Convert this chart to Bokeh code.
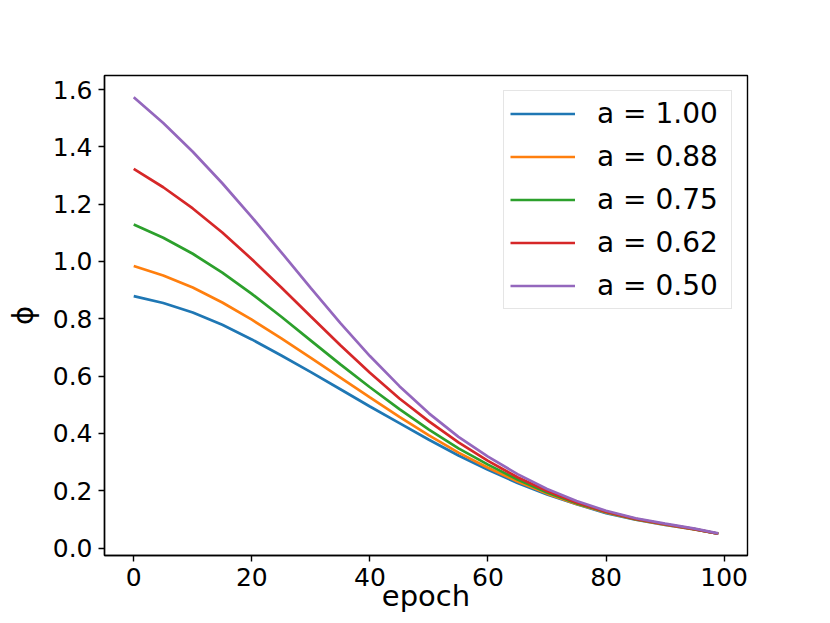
from bokeh.plotting import figure
from bokeh.models import Range1d, FixedTicker, PrintfTickFormatter
from bokeh.embed import file_html
from bokeh.resources import INLINE

# ---- data ----
epochs = [0, 5, 10, 15, 20, 25, 30, 35, 40, 45, 50, 55, 60, 65, 70, 75, 80, 85, 90, 95, 99]

phi_a100 = [0.879, 0.855, 0.822, 0.779, 0.728, 0.672, 0.614, 0.554, 0.494, 0.436, 0.378,
            0.323, 0.273, 0.227, 0.187, 0.153, 0.122, 0.099, 0.081, 0.065, 0.050]
phi_a088 = [0.984, 0.951, 0.909, 0.857, 0.797, 0.732, 0.664, 0.595, 0.526, 0.458, 0.393,
            0.333, 0.280, 0.232, 0.190, 0.154, 0.124, 0.100, 0.082, 0.065, 0.050]
phi_a075 = [1.129, 1.083, 1.027, 0.961, 0.887, 0.807, 0.724, 0.641, 0.561, 0.485, 0.413,
            0.348, 0.291, 0.239, 0.194, 0.156, 0.126, 0.101, 0.083, 0.066, 0.050]
phi_a062 = [1.323, 1.259, 1.185, 1.101, 1.008, 0.909, 0.808, 0.708, 0.612, 0.522, 0.442,
            0.369, 0.304, 0.247, 0.199, 0.159, 0.127, 0.102, 0.083, 0.066, 0.050]
phi_a050 = [1.573, 1.483, 1.383, 1.273, 1.155, 1.032, 0.907, 0.785, 0.670, 0.565, 0.470,
            0.388, 0.319, 0.258, 0.206, 0.164, 0.130, 0.104, 0.085, 0.068, 0.051]

labels = ["a = 1.00", "a = 0.88", "a = 0.75", "a = 0.62", "a = 0.50"]
series = [phi_a100, phi_a088, phi_a075, phi_a062, phi_a050]
colors = ["#1f77b4", "#ff7f0e", "#2ca02c", "#d62728", "#9467bd"]

x_ticks = [0, 20, 40, 60, 80, 100]
y_ticks = [0.0, 0.2, 0.4, 0.6, 0.8, 1.0, 1.2, 1.4, 1.6]
x_title = "epoch"
y_title = "ϕ"

FONT = "DejaVu Sans"

p = figure(width=814, height=615, output_backend="svg", toolbar_location=None,
           x_range=Range1d(-4.95, 103.95), y_range=Range1d(-0.026, 1.649),
           min_border_left=104, min_border_right=67, min_border_top=75, min_border_bottom=60)

for ys, lab, col in zip(series, labels, colors):
    p.line(epochs, ys, line_color=col, line_width=2.7, legend_label=lab)

p.grid.visible = False
p.background_fill_color = "white"
p.border_fill_color = "white"
p.outline_line_color = "black"
p.outline_line_width = 1.4

p.xaxis.ticker = FixedTicker(ticks=x_ticks)
p.yaxis.ticker = FixedTicker(ticks=y_ticks)
p.yaxis.formatter = PrintfTickFormatter(format="%.1f")

for ax in (p.xaxis, p.yaxis):
    ax.axis_line_color = "black"
    ax.axis_line_width = 1.4
    ax.major_tick_line_color = "black"
    ax.major_tick_line_width = 1.4
    ax.major_tick_out = 6
    ax.major_tick_in = 0
    ax.minor_tick_line_color = None
    ax.major_label_text_font = FONT
    ax.major_label_text_font_size = "25px"
    ax.major_label_text_color = "black"
    ax.major_label_standoff = 6
    ax.axis_label_text_font = FONT
    ax.axis_label_text_font_size = "29px"
    ax.axis_label_text_font_style = "normal"
    ax.axis_label_text_color = "black"

p.xaxis.axis_label = x_title
p.xaxis.axis_label_standoff = -10
p.yaxis.axis_label = y_title
p.yaxis.axis_label_standoff = 10

lg = p.legend[0]
lg.location = "top_right"
lg.margin = 15
lg.padding = 6
lg.spacing = 10
lg.glyph_width = 65
lg.glyph_height = 33
lg.label_height = 33
lg.label_width = 128
lg.label_standoff = 22
lg.label_text_font = FONT
lg.label_text_font_size = "28px"
lg.label_text_color = "black"
lg.border_line_color = "#cccccc"
lg.border_line_width = 1.4
lg.background_fill_alpha = 0.8

open("out.html", "w").write(file_html(p, INLINE))
